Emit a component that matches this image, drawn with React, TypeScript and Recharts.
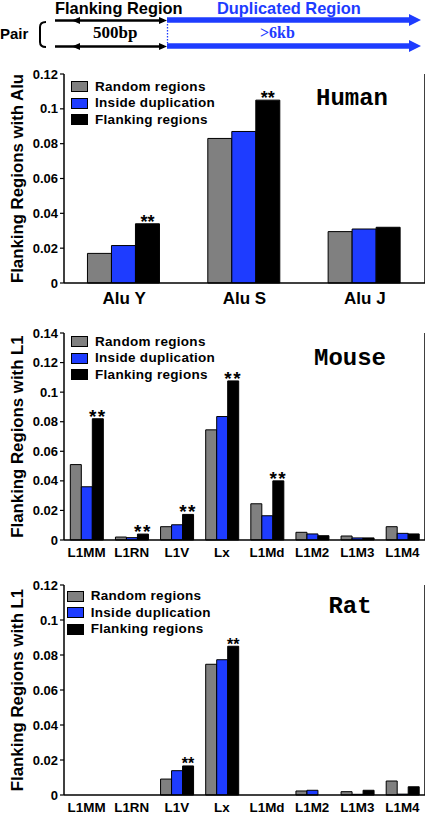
import { BarChart, Bar, XAxis, YAxis, LabelList, Legend } from 'recharts';

const seriesNames = ['Random regions', 'Inside duplication', 'Flanking regions'];
const seriesKeys = ['random', 'inside', 'flanking'];
const seriesColors = ['#808080', '#1e3cff', '#000000'];

const humanCats = ['Alu Y', 'Alu S', 'Alu J'];
const humanRandom = [0.017, 0.083, 0.0295];
const humanInside = [0.0215, 0.087, 0.031];
const humanFlanking = [0.034, 0.105, 0.032];
const humanSig = [true, true, false];
const humanTicks = [0, 0.02, 0.04, 0.06, 0.08, 0.1, 0.12];

const l1Cats = ['L1MM', 'L1RN', 'L1V', 'Lx', 'L1Md', 'L1M2', 'L1M3', 'L1M4'];

const mouseRandom = [0.051, 0.002, 0.009, 0.0745, 0.0245, 0.0052, 0.0027, 0.009];
const mouseInside = [0.036, 0.0016, 0.0103, 0.0835, 0.0164, 0.0041, 0.0014, 0.0045];
const mouseFlanking = [0.082, 0.004, 0.0173, 0.1076, 0.04, 0.0029, 0.0014, 0.0041];
const mouseSig = [true, true, true, true, true, false, false, false];
const mouseTicks = [0, 0.02, 0.04, 0.06, 0.08, 0.1, 0.12, 0.14];

const ratRandom = [0, 0, 0.0091, 0.0747, 0, 0.0023, 0.0019, 0.008];
const ratInside = [0, 0, 0.0139, 0.0773, 0, 0.0027, 0.0004, 0.0005];
const ratFlanking = [0, 0, 0.0166, 0.085, 0, 0, 0.0027, 0.0047];
const ratSig = [false, false, true, true, false, false, false, false];
const ratTicks = [0, 0.02, 0.04, 0.06, 0.08, 0.1, 0.12];

const SANS = '"Liberation Sans", Arial, sans-serif';
const SERIF = '"Liberation Serif", "Times New Roman", serif';
const MONO = '"Liberation Mono", "Courier New", monospace';
const BLUE = '#1e3cff';

function buildRows(cats: string[], r: number[], i: number[], f: number[], sig: boolean[]) {
  return cats.map((cat, k) => ({
    cat,
    random: r[k],
    inside: i[k],
    flanking: f[k],
    sig: sig[k] ? '**' : '',
  }));
}

function LegendBox({ swatchX, textX }: { swatchX: number; textX: number }) {
  return (
    <div style={{ fontFamily: SANS, fontWeight: 'bold', fontSize: 13.5, color: '#000' }}>
      {seriesNames.map((name, k) => (
        <div key={name} style={{ height: 16.5, display: 'flex', alignItems: 'center', whiteSpace: 'nowrap' }}>
          <div
            style={{
              width: 17,
              height: 11,
              boxSizing: 'border-box',
              border: '1px solid #000',
              background: seriesColors[k],
            }}
          />
          <span style={{ marginLeft: textX - swatchX - 17, lineHeight: '16px', letterSpacing: 0.3 }}>{name}</span>
        </div>
      ))}
    </div>
  );
}

interface PanelProps {
  top: number;
  height: number;
  marginTop: number;
  xHeight: number;
  xFont: number;
  xMargin: number;
  gap: string;
  data: ReturnType<typeof buildRows>;
  ymax: number;
  ticks: number[];
  legendTop: number;
  swatchX: number;
  textX: number;
  starFont: number;
  starOffset: number;
  starSpacing: number;
}

function Panel(p: PanelProps) {
  return (
    <div style={{ position: 'absolute', left: 0, top: p.top }}>
      <BarChart
        width={425}
        height={p.height}
        data={p.data}
        margin={{ top: p.marginTop, right: 0, bottom: 0, left: 0 }}
        barCategoryGap={p.gap}
        barGap={0}
      >
        <XAxis
          dataKey="cat"
          height={p.xHeight}
          tickSize={0}
          tickMargin={p.xMargin}
          axisLine={{ stroke: '#000', strokeWidth: 1.5 }}
          tickLine={false}
          interval={0}
          tick={{ fontSize: p.xFont, fontWeight: 'bold', fill: '#000', fontFamily: SANS }}
        />
        <XAxis
          xAxisId="top"
          dataKey="cat"
          orientation="top"
          height={0}
          tick={false}
          tickLine={false}
          axisLine={{ stroke: '#000', strokeWidth: 1.5 }}
        />
        <YAxis
          width={64}
          domain={[0, p.ymax]}
          ticks={p.ticks}
          interval={0}
          tickSize={4}
          tickMargin={2}
          axisLine={{ stroke: '#000', strokeWidth: 1.5 }}
          tickLine={{ stroke: '#000', strokeWidth: 1.2 }}
          tickFormatter={(v: number) => String(v)}
          tick={{ fontSize: 13, fontWeight: 'bold', fill: '#000', fontFamily: SANS }}
        />
        <YAxis
          yAxisId="right"
          orientation="right"
          width={7}
          mirror
          domain={[0, p.ymax]}
          ticks={p.ticks}
          interval={0}
          tickSize={4}
          tick={false}
          axisLine={{ stroke: '#000', strokeWidth: 1.5 }}
          tickLine={{ stroke: '#000', strokeWidth: 1.2 }}
        />
        <Legend
          layout="horizontal"
          verticalAlign="middle"
          align="center"
          wrapperStyle={{ position: 'absolute', top: p.legendTop, left: p.swatchX, width: 'auto', height: 'auto' }}
          content={() => <LegendBox swatchX={p.swatchX} textX={p.textX} />}
        />
        {seriesKeys.map((key, k) => (
          <Bar
            key={key}
            dataKey={key}
            name={seriesNames[k]}
            fill={seriesColors[k]}
            stroke="#000"
            strokeWidth={1}
            isAnimationActive={false}
          >
            {key === 'flanking' && (
              <LabelList
                dataKey="sig"
                position="top"
                offset={p.starOffset}
                style={{
                  fontSize: p.starFont,
                  fontWeight: 'bold',
                  fill: '#000',
                  fontFamily: SANS,
                  letterSpacing: p.starSpacing,
                }}
              />
            )}
          </Bar>
        ))}
      </BarChart>
    </div>
  );
}

function Overlay() {
  const arrowRow = (y: number) => (
    <g key={y}>
      <line x1={55} y1={y} x2={164} y2={y} stroke="#000" strokeWidth={2.5} />
      <polygon points={`${72},${y} ${80},${y - 3.5} ${80},${y + 3.5}`} fill="#000" />
      <polygon points={`${167},${y} ${159},${y - 3.5} ${159},${y + 3.5}`} fill="#000" />
      <line x1={167} y1={y - 0.5} x2={411} y2={y - 0.5} stroke={BLUE} strokeWidth={5.5} />
      <polygon points={`${421},${y - 0.5} ${409},${y - 6.5} ${409},${y + 5.5}`} fill={BLUE} />
    </g>
  );
  const yLabel = (text: string, cy: number) => (
    <text
      x={23}
      y={cy}
      transform={`rotate(-90 23 ${cy})`}
      textAnchor="middle"
      fontFamily={SANS}
      fontWeight="bold"
      fontSize={16.8}
      fill="#000"
    >
      {text}
    </text>
  );
  const species = (text: string, cx: number, by: number) => (
    <text x={cx} y={by} textAnchor="middle" fontFamily={MONO} fontWeight="bold" fontSize={24} fill="#000">
      {text}
    </text>
  );
  return (
    <svg
      width={425}
      height={815}
      style={{ position: 'absolute', left: 0, top: 0, pointerEvents: 'none' }}
    >
      <text x={55} y={14} fontFamily={SANS} fontWeight="bold" fontSize={16.4} fill="#000">
        Flanking Region
      </text>
      <text x={217} y={14} fontFamily={SANS} fontWeight="bold" fontSize={16.4} fill={BLUE}>
        Duplicated Region
      </text>
      {arrowRow(20.5)}
      {arrowRow(46.5)}
      <line x1={167.5} y1={24} x2={167.5} y2={43} stroke={BLUE} strokeWidth={1.3} strokeDasharray="1.5 1.5" />
      <text x={93} y={38} fontFamily={SERIF} fontWeight="bold" fontSize={17} fill="#000">
        500bp
      </text>
      <text x={260} y={38} fontFamily={SERIF} fontWeight="bold" fontSize={16} fill={BLUE}>
        &gt;6kb
      </text>
      <text x={0} y={38.5} fontFamily={SANS} fontWeight="bold" fontSize={15} fill="#000">
        Pair
      </text>
      <path d="M46,22 Q40,22 40,27 L40,42 Q40,47 46,47" fill="none" stroke="#000" strokeWidth={2} />
      {yLabel('Flanking Regions with Alu', 178.5)}
      {yLabel('Flanking Regions with L1', 436.5)}
      {yLabel('Flanking Regions with L1', 690)}
      {species('Human', 352, 105)}
      {species('Mouse', 350, 365)}
      {species('Rat', 350, 613)}
    </svg>
  );
}

export default function App() {
  const human = buildRows(humanCats, humanRandom, humanInside, humanFlanking, humanSig);
  const mouse = buildRows(l1Cats, mouseRandom, mouseInside, mouseFlanking, mouseSig);
  const rat = buildRows(l1Cats, ratRandom, ratInside, ratFlanking, ratSig);
  return (
    <div
      style={{
        position: 'absolute',
        left: 0,
        top: 0,
        width: 425,
        height: 815,
        background: '#fff',
        overflow: 'hidden',
        fontFamily: SANS,
      }}
    >
      <Panel
        top={60}
        height={260}
        marginTop={14}
        xHeight={37}
        xFont={17}
        xMargin={9}
        gap="19.5%"
        data={human}
        ymax={0.12}
        ticks={humanTicks}
        legendTop={18.25}
        swatchX={70.7}
        textX={95}
        starFont={18}
        starOffset={-4}
        starSpacing={0}
      />
      <Panel
        top={320}
        height={255}
        marginTop={13}
        xHeight={35}
        xFont={13.4}
        xMargin={7}
        gap="14%"
        data={mouse}
        ymax={0.14}
        ticks={mouseTicks}
        legendTop={13.25}
        swatchX={70.7}
        textX={95}
        starFont={19}
        starOffset={-4}
        starSpacing={1.5}
      />
      <Panel
        top={575}
        height={240}
        marginTop={10}
        xHeight={20}
        xFont={13.4}
        xMargin={7}
        gap="14%"
        data={rat}
        ymax={0.12}
        ticks={ratTicks}
        legendTop={12.75}
        swatchX={66.7}
        textX={90.7}
        starFont={16}
        starOffset={-3.5}
        starSpacing={0}
      />
      <Overlay />
    </div>
  );
}
